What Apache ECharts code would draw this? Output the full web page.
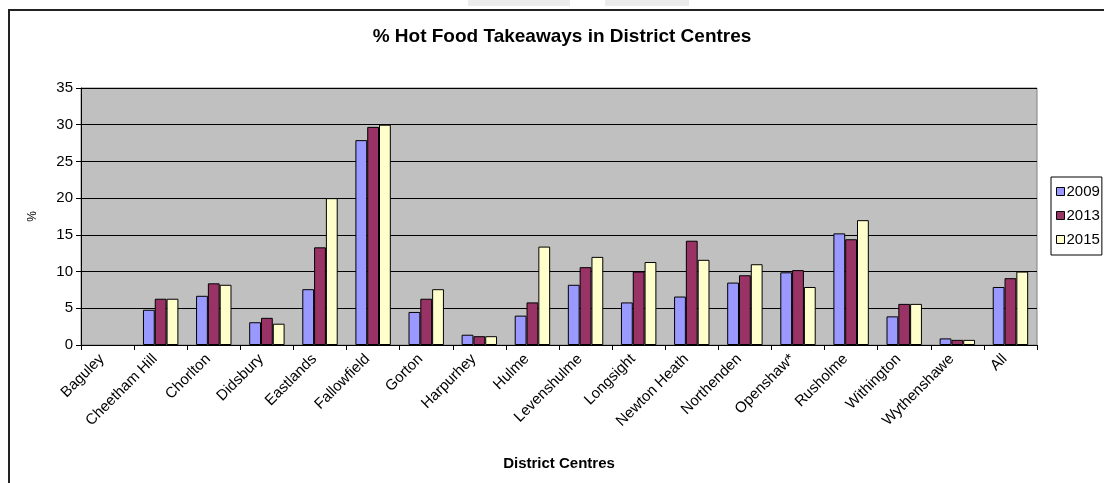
<!DOCTYPE html>
<html>
<head>
<meta charset="utf-8">
<script src="https://cdn.jsdelivr.net/npm/echarts@6/dist/echarts.min.js"></script>
<style>
html,body{margin:0;padding:0;background:#fff;}
#chart{width:1104px;height:483px;}
</style>
</head>
<body>
<div id="chart"></div>
<script>
var categories = ['Baguley','Cheetham Hill','Chorlton','Didsbury','Eastlands','Fallowfield','Gorton','Harpurhey','Hulme','Levenshulme','Longsight','Newton Heath','Northenden','Openshaw*','Rusholme','Withington','Wythenshawe','All'];
var seriesNames = ['2009','2013','2015'];
var values2009 = [null,4.8,6.7,3.1,7.6,27.9,4.5,1.4,4.0,8.2,5.8,6.6,8.5,9.9,15.2,3.9,0.9,7.9];
var values2013 = [null,6.3,8.4,3.7,13.3,29.7,6.3,1.2,5.8,10.6,10.0,14.2,9.5,10.2,14.4,5.6,0.7,9.1];
var values2015 = [null,6.3,8.2,2.9,20.0,30.0,7.6,1.2,13.4,12.0,11.3,11.6,11.0,7.9,17.0,5.6,0.7,10.0];
var yTicks = [0,5,10,15,20,25,30,35];
var colors = ['#9999FF','#993366','#FFFFCC'];

var chart = echarts.init(document.getElementById('chart'));
var font = 'Liberation Sans, Arial, sans-serif';
function bar(name, data, color){
  return {
    name: name, type: 'bar', data: data,
    barGap: '0%', barCategoryGap: '33.3%',
    itemStyle: {color: color, borderColor: '#000', borderWidth: 1},
    emphasis: {disabled: true}
  };
}
chart.setOption({
  animation: false,
  backgroundColor: '#fff',
  title: {
    text: '% Hot Food Takeaways in District Centres',
    left: 557, top: 22, textAlign: 'center',
    textStyle: {fontFamily: font, fontSize: 19, fontWeight: 'bold', color: '#000'}
  },
  graphic: [
    {type: 'rect', shape: {x: 468, y: -2, width: 102, height: 8}, style: {fill: '#ececec'}},
    {type: 'rect', shape: {x: 605, y: -2, width: 84, height: 8}, style: {fill: '#ececec'}},
    {type: 'rect', shape: {x: 9, y: 10, width: 1200, height: 600}, style: {fill: 'none', stroke: '#222', lineWidth: 2}}
  ],
  legend: {
    data: seriesNames,
    orient: 'vertical',
    left: 1051, top: 177,
    padding: [7, 2, 8, 5],
    itemGap: 9,
    itemWidth: 8, itemHeight: 8,
    icon: 'rect',
    backgroundColor: '#fff',
    borderColor: '#000', borderWidth: 1,
    textStyle: {fontFamily: font, fontSize: 15, color: '#000', padding: [0,0,0,-3]},
    itemStyle: {borderColor: '#000', borderWidth: 1}
  },
  grid: {
    left: 81, right: 67, top: 88, bottom: 138,
    show: true, backgroundColor: '#C0C0C0', borderColor: '#808080', borderWidth: 1
  },
  xAxis: {
    type: 'category', data: categories,
    name: 'District Centres', nameLocation: 'middle', nameGap: 111,
    nameTextStyle: {fontFamily: font, fontSize: 15, fontWeight: 'bold', color: '#000'},
    axisLine: {lineStyle: {color: '#000', width: 1}},
    axisTick: {show: true, length: 5, lineStyle: {color: '#000'}},
    axisLabel: {rotate: 45, interval: 0, fontFamily: font, fontSize: 15, color: '#000', margin: 6, padding: [0, 8, 0, 0]},
    splitLine: {show: false}
  },
  yAxis: {
    type: 'value', min: 0, max: 35, interval: 5,
    name: '%', nameLocation: 'middle', nameGap: 42, nameRotate: 90,
    nameTextStyle: {fontFamily: font, fontSize: 12, color: '#000'},
    axisLine: {show: true, lineStyle: {color: '#000', width: 1}},
    axisTick: {show: true, length: 5, lineStyle: {color: '#000'}},
    axisLabel: {fontFamily: font, fontSize: 15, color: '#000', margin: 8,
      formatter: function(v){ return yTicks.indexOf(v) >= 0 ? String(v) : ''; }},
    splitLine: {show: true, lineStyle: {color: '#000', width: 1}}
  },
  series: [
    bar(seriesNames[0], values2009, colors[0]),
    bar(seriesNames[1], values2013, colors[1]),
    bar(seriesNames[2], values2015, colors[2])
  ]
});
</script>
</body>
</html>
